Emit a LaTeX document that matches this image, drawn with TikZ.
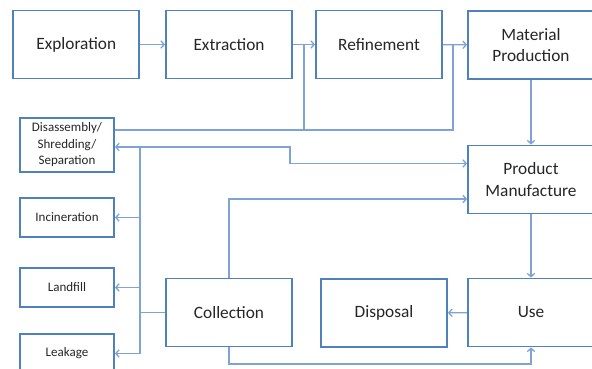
\documentclass[tikz,border=0pt]{standalone}
\usepackage{fontspec}
\setmainfont{Carlito}
\usetikzlibrary{arrows.meta}
\definecolor{boxc}{HTML}{4F81BD}
\definecolor{linec}{HTML}{7FA3D6}
\definecolor{txtc}{HTML}{262626}
\begin{document}
\begin{tikzpicture}[x=1pt,y=1pt,
  bigbox/.style={draw=boxc,line width=1.7pt,fill=white,text=txtc,align=center,
    minimum width=126pt,minimum height=68pt,inner sep=0pt,
    font=\fontsize{17.3}{21.5}\selectfont},
  smallbox/.style={draw=boxc,line width=1.7pt,fill=white,text=txtc,align=center,
    minimum width=94pt,minimum height=39pt,inner sep=0pt,
    font=\fontsize{13}{16.5}\selectfont},
  conn/.style={draw=linec,line width=1.3pt,-{Straight Barb[length=3.5pt,width=7.5pt]}},
  plain/.style={draw=linec,line width=1.3pt}]
\useasboundingbox (0,0) rectangle (592,-369);
\begin{scope}
\clip (0,0) rectangle (592,-369);
% main boxes
\node[bigbox] (expl) at (76.3,-44.5) {Exploration};
\node[bigbox] (extr) at (229,-44.5) {Extraction};
\node[bigbox] (refi) at (379,-44.5) {Refinement};
\node[bigbox] (matp) at (531,-45) {Material\\Production};
\node[bigbox] (prod) at (531,-179.5) {Product\\Manufacture};
\node[bigbox] (use) at (531,-312.5) {Use};
\node[bigbox] (disp) at (384,-313) {Disposal};
\node[bigbox] (coll) at (229,-312.5) {Collection};
% end-of-life boxes
\node[smallbox,minimum height=54pt] (disa) at (67,-145) {Disassembly/\\Shredding/\\Separation};
\node[smallbox] (inci) at (67,-217.5) {Incineration};
\node[smallbox] (land) at (67,-287.5) {Landfill};
\node[smallbox] (leak) at (67,-353.5) {Leakage};
% junction coordinates
\coordinate (j1) at (304,-44.5);
\coordinate (j2) at (453,-44.5);
\coordinate (f1) at (304,-130);
\coordinate (f2) at (453,-130);
\coordinate (t1) at (140,-147);
\coordinate (tc) at (140,-312.5);
\coordinate (tb) at (140,-353.5);
\coordinate (r1) at (290,-147);
\coordinate (r2) at (290,-163.5);
\coordinate (c1) at (229,-199);
\coordinate (c2) at (229,-364);
\coordinate (c3) at (531,-364);
% main flow
\draw[conn] (expl) -- (extr);
\draw[conn] (extr) -- (refi);
\draw[conn] (refi) -- (matp);
\draw[conn] (matp) -- (prod);
\draw[conn] (prod) -- (use);
\draw[conn] (use) -- (disp);
% recycling feedback to extraction/refinement
\draw[plain] ([yshift=15pt]disa.east) -- (f2) -- (j2);
\draw[plain] (f1) -- (j1);
% collection trunk
\draw[plain] (coll.west) -- (tc);
\draw[plain] (tb) -- (t1);
\draw[conn] (t1) -- ([yshift=-2pt]disa.east);
\draw[conn] (t1 |- inci.east) -- (inci.east);
\draw[conn] (t1 |- land.east) -- (land.east);
\draw[conn] (tb) -- (tb -| leak.east);
\draw[conn] (t1) -- (r1) -- (r2) -- (r2 -| prod.west);
% collection to manufacture and use
\draw[conn] (coll.north) -- (c1) -- (c1 -| prod.west);
\draw[conn] (coll.south) -- (c2) -- (c3) -- (use.south);
\end{scope}
\end{tikzpicture}
\end{document}
